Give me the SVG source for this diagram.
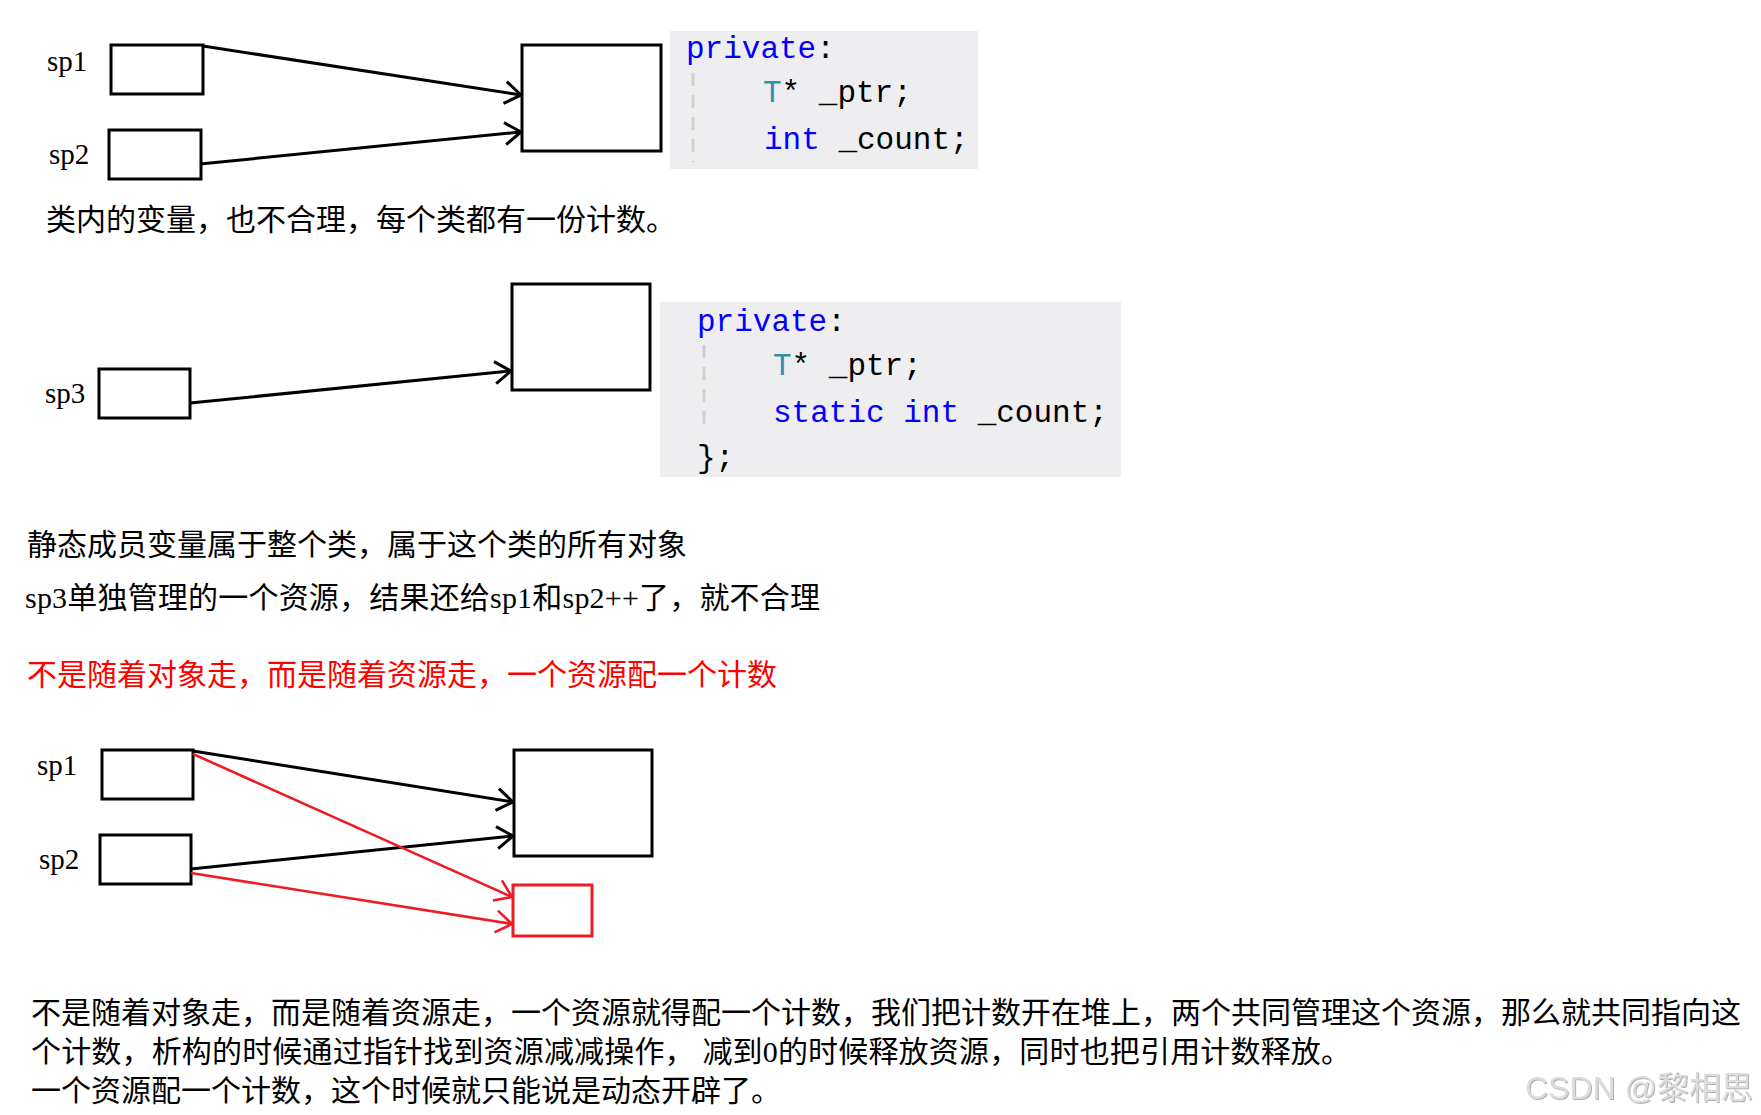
<svg xmlns="http://www.w3.org/2000/svg" width="1761" height="1115" viewBox="0 0 1761 1115">
  <style>
    .box { fill: #ffffff; stroke: #000000; stroke-width: 3; }
    .rbox { fill: #ffffff; stroke: #ed1c24; stroke-width: 3; }
    .lbl { font-family: "Liberation Serif", "Noto Sans CJK SC", serif; font-size: 29px; fill: #000000; }
    .body { font-family: "Liberation Serif", "Noto Sans CJK SC", serif; font-size: 30px; fill: #000000; }
    .red { fill: #ff0000; }
    .code { font-family: "Liberation Mono", "DejaVu Sans Mono", monospace; font-size: 31px; fill: #000000; }
    .kw { fill: #0000ff; }
    .ty { fill: #2b91af; }
    .codebg { fill: #eeeef1; }
    .guide { stroke: #d0d0d0; stroke-width: 3; stroke-dasharray: 13 9; fill: none; }
    .arrow { fill: none; stroke: #000000; stroke-width: 3; marker-end: url(#ahB); }
    .rarrow { fill: none; stroke: #ed1c24; stroke-width: 2.6; marker-end: url(#ahR); }
    .wm { font-family: "Liberation Sans", "Noto Sans CJK SC", sans-serif; font-size: 32px; fill: #dcdcdc; }
  </style>
  <defs>
    <marker id="ahB" markerUnits="userSpaceOnUse" viewBox="-20 -14 22 28" refX="0" refY="0" markerWidth="22" markerHeight="28" orient="auto">
      <path d="M-16,-11 L0,0 L-16,11" fill="none" stroke="#000000" stroke-width="3"/>
    </marker>
    <marker id="ahR" markerUnits="userSpaceOnUse" viewBox="-20 -14 22 28" refX="0" refY="0" markerWidth="22" markerHeight="28" orient="auto">
      <path d="M-16,-11 L0,0 L-16,11" fill="none" stroke="#ed1c24" stroke-width="2.6"/>
    </marker>
    <filter id="emboss" x="-5%" y="-20%" width="110%" height="140%">
      <feDropShadow dx="1" dy="1" stdDeviation="0.6" flood-color="#a8a8a8" flood-opacity="0.9"/>
    </filter>
  </defs>
  <rect x="0" y="0" width="1761" height="1115" fill="#ffffff"/>

  <!-- Section 1 -->
  <g id="s1-sp1">
    <rect class="box" x="111" y="45" width="92" height="49"/>
    <text class="lbl" x="47" y="71">sp1</text>
  </g>
  <g id="s1-sp2">
    <rect class="box" x="109" y="130" width="92" height="49"/>
    <text class="lbl" x="49" y="164">sp2</text>
  </g>
  <g id="s1-resource">
    <rect class="box" x="522" y="45" width="139" height="106"/>
  </g>
  <g id="s1-code">
    <rect class="codebg" x="670" y="31" width="308" height="138"/>
    <line class="guide" x1="693" y1="73" x2="693" y2="162"/>
    <text class="code" x="686" y="58"><tspan class="kw">private</tspan>:</text>
    <text class="code" x="763" y="102"><tspan class="ty">T</tspan>* _ptr;</text>
    <text class="code" x="764" y="149"><tspan class="kw">int</tspan> _count;</text>
  </g>
  <g id="s1-caption">
    <text class="body" x="46" y="230">类内的变量，也不合理，每个类都有一份计数。</text>
  </g>

  <!-- Section 2 -->
  <g id="s2-resource">
    <rect class="box" x="512" y="284" width="138" height="106"/>
  </g>
  <g id="s2-sp3">
    <rect class="box" x="99" y="369" width="91" height="49"/>
    <text class="lbl" x="45" y="403">sp3</text>
  </g>
  <g id="s2-code">
    <rect class="codebg" x="660" y="302" width="461" height="175"/>
    <line class="guide" x1="704" y1="345" x2="704" y2="427"/>
    <text class="code" x="697" y="331"><tspan class="kw">private</tspan>:</text>
    <text class="code" x="773" y="375"><tspan class="ty">T</tspan>* _ptr;</text>
    <text class="code" x="773" y="422"><tspan class="kw">static</tspan> <tspan class="kw">int</tspan> _count;</text>
    <text class="code" x="697" y="467">};</text>
  </g>
  <g id="s2-text">
    <text class="body" x="27" y="555">静态成员变量属于整个类，属于这个类的所有对象</text>
    <text class="body" x="25" y="608" textLength="795" lengthAdjust="spacing">sp3单独管理的一个资源，结果还给sp1和sp2++了，就不合理</text>
    <text class="body red" x="27" y="685">不是随着对象走，而是随着资源走，一个资源配一个计数</text>
  </g>

  <!-- Section 3 -->
  <g id="s3-sp1">
    <rect class="box" x="102" y="750" width="91" height="49"/>
    <text class="lbl" x="37" y="775">sp1</text>
  </g>
  <g id="s3-sp2">
    <rect class="box" x="100" y="835" width="91" height="49"/>
    <text class="lbl" x="39" y="869">sp2</text>
  </g>
  <g id="s3-resource">
    <rect class="box" x="514" y="750" width="138" height="106"/>
  </g>
  <g id="s3-count">
    <rect class="rbox" x="513" y="885" width="79" height="51"/>
  </g>

  <!-- Connectors -->
  <g id="connectors">
    <line class="arrow" x1="203" y1="46" x2="521" y2="95"/>
    <line class="arrow" x1="200" y1="164" x2="521" y2="132"/>
    <line class="arrow" x1="190" y1="403" x2="511" y2="371"/>
    <line class="arrow" x1="193" y1="751" x2="513" y2="802"/>
    <line class="arrow" x1="191" y1="869" x2="513" y2="836"/>
    <line class="rarrow" x1="193" y1="754" x2="512" y2="897"/>
    <line class="rarrow" x1="191" y1="873" x2="512" y2="924"/>
  </g>

  <!-- Bottom paragraph -->
  <g id="paragraph">
    <text class="body" x="31" y="1023" textLength="1710" lengthAdjust="spacing">不是随着对象走，而是随着资源走，一个资源就得配一个计数，我们把计数开在堆上，两个共同管理这个资源，那么就共同指向这</text>
    <text class="body" x="31" y="1062" textLength="1320" lengthAdjust="spacing">个计数，析构的时候通过指针找到资源减减操作， 减到0的时候释放资源，同时也把引用计数释放。</text>
    <text class="body" x="31" y="1101">一个资源配一个计数，这个时候就只能说是动态开辟了。</text>
  </g>

  <g id="watermark">
    <text class="wm" x="1525" y="1099" filter="url(#emboss)">CSDN @黎相思</text>
  </g>
</svg>
